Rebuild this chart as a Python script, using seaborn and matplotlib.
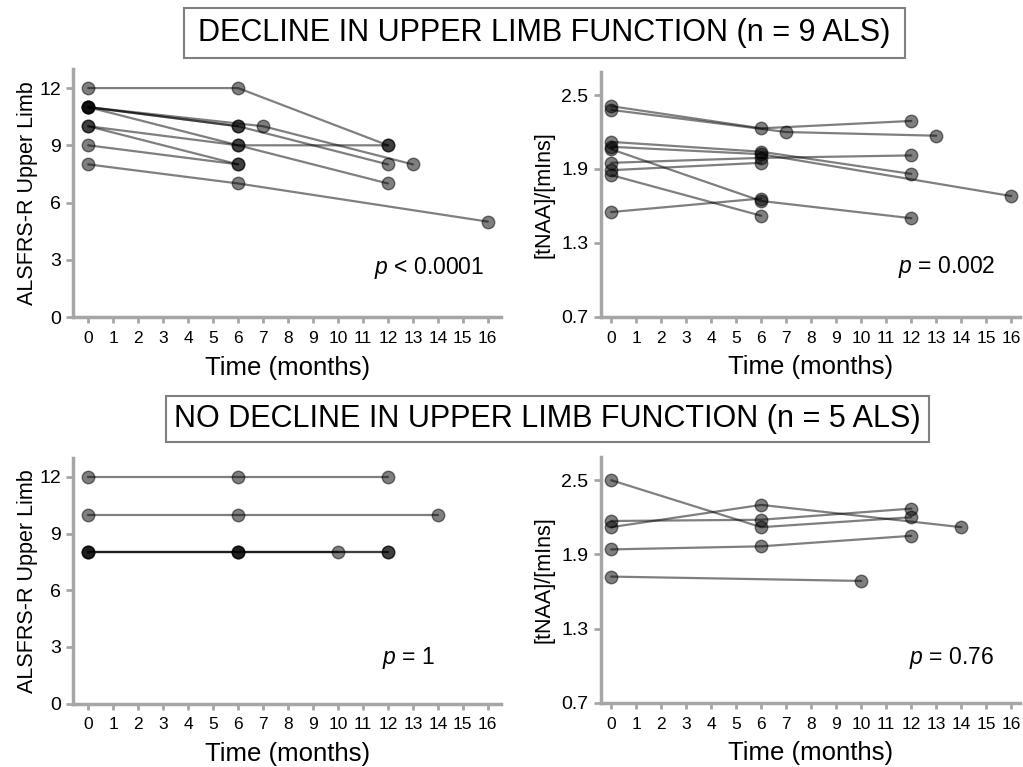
import numpy as np
import pandas as pd
import seaborn as sns
import matplotlib
matplotlib.use("Agg")
import matplotlib.pyplot as plt
from matplotlib.patches import Rectangle

# ---------------- data ----------------
# Decline group (n = 9): ALSFRS-R upper limb
dec_als_time = [[0, 6, 12], [0, 6, 12], [0, 7, 13], [0, 6, 12], [0, 6, 12],
                [0, 6], [0, 6], [0, 6, 16], [0, 6]]
dec_als_val = [[12, 12, 9], [11, 10, 8], [11, 10, 8], [11, 9, 7], [10, 9, 9],
               [10, 8], [9, 8], [8, 7, 5], [11, 10]]
# Decline group: [tNAA]/[mIns]
dec_naa_time = [[0, 6, 12], [0, 7, 13], [0, 6, 12], [0, 6, 16], [0, 6, 12],
                [0, 6, 12], [0, 6], [0, 6], [0, 6]]
dec_naa_val = [[2.41, 2.23, 2.29], [2.38, 2.20, 2.17], [2.12, 2.04, 1.86],
               [2.08, 2.02, 1.68], [2.06, 1.64, 1.50], [1.95, 1.99, 2.01],
               [1.89, 1.95], [1.85, 1.52], [1.55, 1.66]]
# No-decline group (n = 5): ALSFRS-R upper limb
nod_als_time = [[0, 6, 12], [0, 6, 14], [0, 6, 10], [0, 6, 12], [0, 6, 12]]
nod_als_val = [[12, 12, 12], [10, 10, 10], [8, 8, 8], [8, 8, 8], [8, 8, 8]]
# No-decline group: [tNAA]/[mIns]
nod_naa_time = [[0, 6, 12], [0, 6, 14], [0, 6, 12], [0, 6, 12], [0, 10]]
nod_naa_val = [[2.50, 2.12, 2.20], [2.12, 2.30, 2.12], [2.17, 2.18, 2.27],
               [1.94, 1.965, 2.05], [1.72, 1.685]]

x_ticks = list(range(0, 17))
als_ticks = [0, 3, 6, 9, 12]
naa_ticks = [0.7, 1.3, 1.9, 2.5]
naa_ticklabels = ["0.7", "1.3", "1.9", "2.5"]

titles = ["DECLINE IN UPPER LIMB FUNCTION (n = 9 ALS)",
          "NO DECLINE IN UPPER LIMB FUNCTION (n = 5 ALS)"]
p_texts = ["$p$ < 0.0001", "$p$ = 0.002", "$p$ = 1", "$p$ = 0.76"]


def to_df(times, vals):
    rows = []
    for pid, (ts, vs) in enumerate(zip(times, vals)):
        for t, v in zip(ts, vs):
            rows.append({"pid": pid, "t": t, "v": v})
    return pd.DataFrame(rows)


# ---------------- style ----------------
sns.set_theme(style="white")
plt.rcParams["font.family"] = ["Liberation Sans", "DejaVu Sans"]
plt.rcParams["mathtext.fontset"] = "custom"
plt.rcParams["mathtext.it"] = "Liberation Sans:italic"
plt.rcParams["mathtext.rm"] = "Liberation Sans"
plt.rcParams["text.color"] = "black"
plt.rcParams["axes.labelcolor"] = "black"
plt.rcParams["xtick.labelcolor"] = "black"
plt.rcParams["ytick.labelcolor"] = "black"

W, H = 1023, 767
fig = plt.figure(figsize=(W / 100, H / 100), dpi=100)

spine_col = "#a6a6a6"


def fx(px):
    return px / W


def fy(py):
    return 1 - py / H


panels = [
    (73.3, 501.5, 69, 317, to_df(dec_als_time, dec_als_val), "als", (15.85, 2.57), p_texts[0]),
    (600.7, 1020, 71.7, 316.7, to_df(dec_naa_time, dec_naa_val), "naa", (15.35, 1.105), p_texts[1]),
    (73.3, 501.5, 458, 703.5, to_df(nod_als_time, nod_als_val), "als", (13.9, 2.4), p_texts[2]),
    (600.7, 1020, 456.7, 702.7, to_df(nod_naa_time, nod_naa_val), "naa", (15.3, 1.06), p_texts[3]),
]

for (l, r, t, b, df, kind, ppos, ptxt) in panels:
    ax = fig.add_axes([fx(l), fy(b), fx(r - l), (b - t) / H])
    sns.lineplot(data=df, x="t", y="v", units="pid", estimator=None, ax=ax,
                 color="black", alpha=0.5, linewidth=1.6, marker="o",
                 markersize=9, markeredgecolor="black", markeredgewidth=1.0,
                 legend=False)
    if kind == "als":
        ax.set_xlim(-0.6, 16.55)
        ax.set_ylim(0, 13)
        ax.set_yticks(als_ticks)
        ax.set_yticklabels([str(v) for v in als_ticks])
        ax.set_ylabel("ALSFRS-R Upper Limb", fontsize=15.5, labelpad=1)
    else:
        ax.set_xlim(-0.42, 16.35)
        ax.set_ylim(0.7, 2.69)
        ax.set_yticks(naa_ticks)
        ax.set_yticklabels(naa_ticklabels)
        ax.set_ylabel("[tNAA]/[mIns]", fontsize=15.5, labelpad=5)
    ax.set_xticks(x_ticks)
    ax.set_xticklabels([str(v) for v in x_ticks])
    ax.set_xlabel("Time (months)", fontsize=18.5, labelpad=7)
    for s in ["top", "right"]:
        ax.spines[s].set_visible(False)
    for s in ["left", "bottom"]:
        ax.spines[s].set_color(spine_col)
        ax.spines[s].set_linewidth(2.5)
    ax.tick_params(axis="y", which="major", direction="out", length=5, width=2,
                   color=spine_col, labelsize=14, pad=4, left=True,
                   labelcolor="black")
    ax.tick_params(axis="x", which="major", direction="out", length=4, width=2,
                   color=spine_col, labelsize=12.5, pad=6, bottom=True,
                   labelcolor="black")
    ax.text(ppos[0], ppos[1], ptxt, ha="right", va="center", fontsize=16.5,
            color="black")
    ax.set_facecolor("white")

# title boxes
boxes = [(184, 905, 8, 58, 33), (166, 929, 396, 442, 419)]
for (x0, x1, y0, y1, yc), ttl in zip(boxes, titles):
    rect = Rectangle((fx(x0), fy(y1)), fx(x1 - x0), (y1 - y0) / H,
                     transform=fig.transFigure, facecolor="white",
                     edgecolor="#7f7f7f", linewidth=1.5)
    fig.patches.append(rect)
    fig.text(fx((x0 + x1) / 2), fy(yc), ttl, ha="center", va="center",
             fontsize=22, color="black")

fig.savefig("out.png", dpi=100)
